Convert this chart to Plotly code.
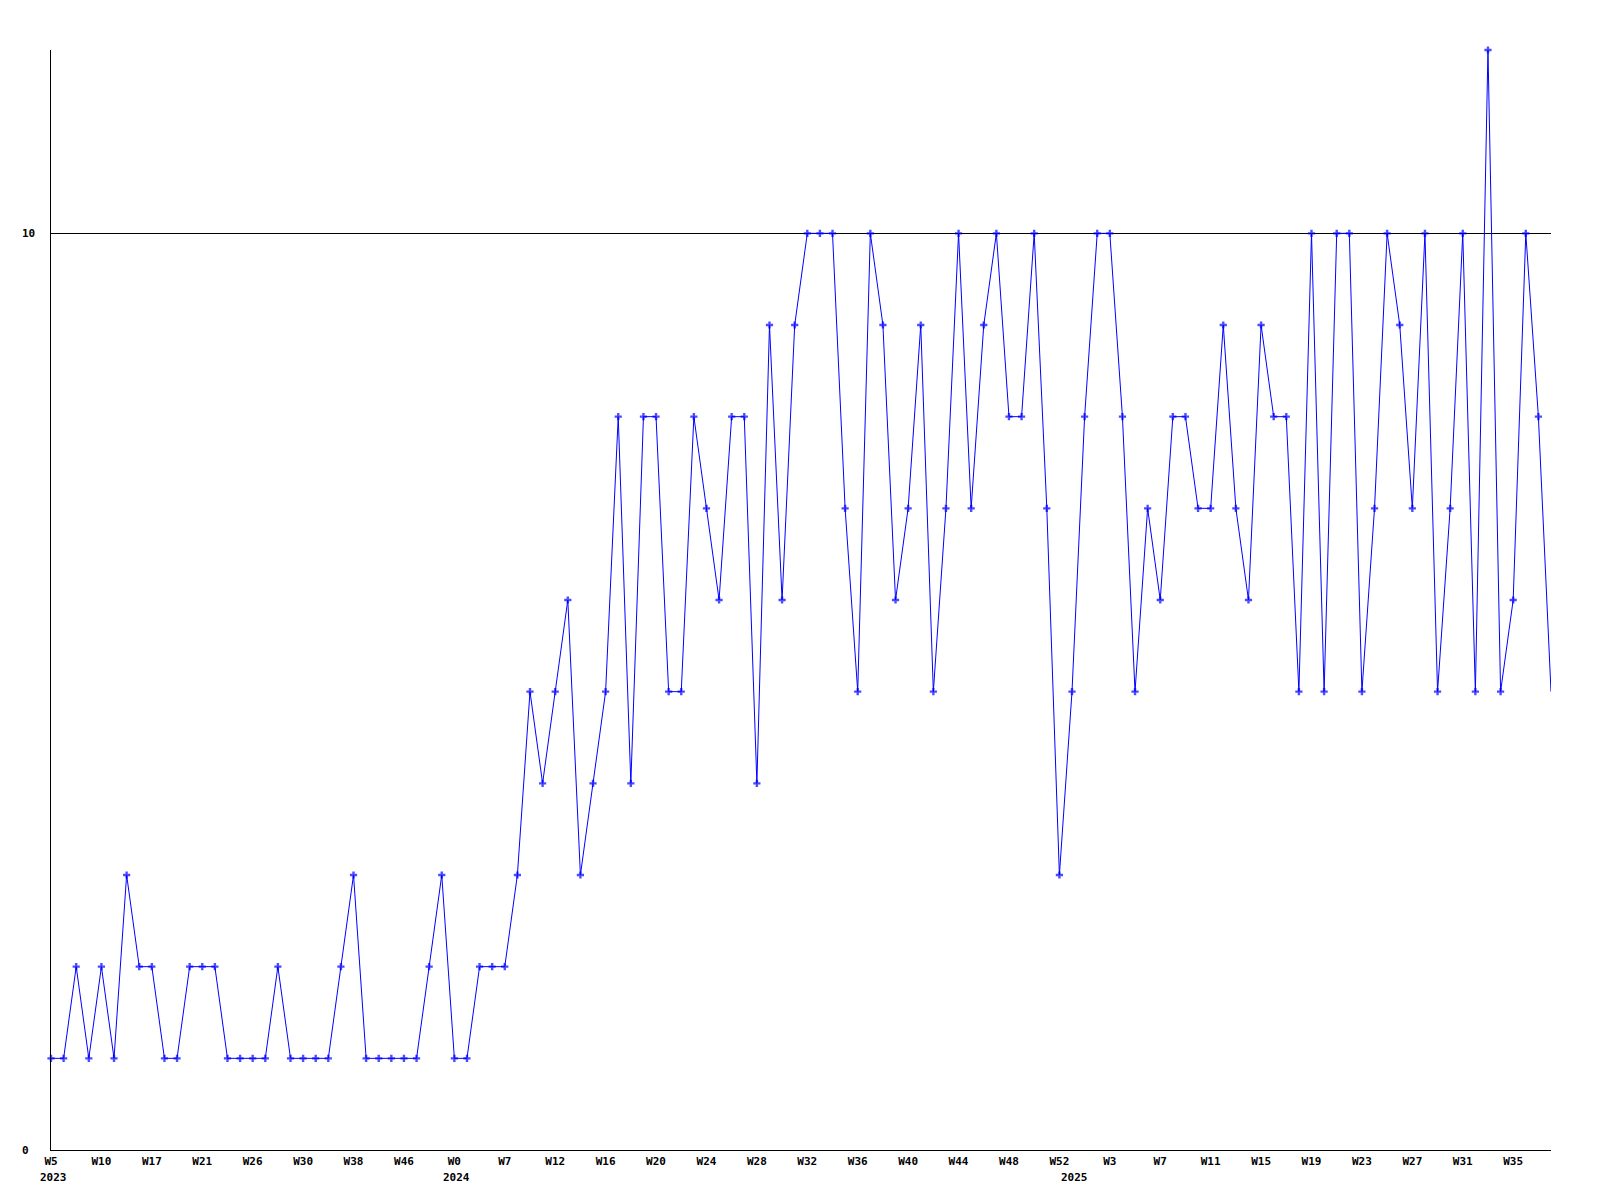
import plotly.graph_objects as go

# Weekly counts (one value per week bucket)
values = [1, 1, 2, 1, 2, 1, 3, 2, 2, 1,
          1, 2, 2, 2, 1, 1, 1, 1, 2, 1,
          1, 1, 1, 2, 3, 1, 1, 1, 1, 1,
          2, 3, 1, 1, 2, 2, 2, 3, 5, 4,
          5, 6, 3, 4, 5, 8, 4, 8, 8, 5,
          5, 8, 7, 6, 8, 8, 4, 9, 6, 9,
          10, 10, 10, 7, 5, 10, 9, 6, 7, 9,
          5, 7, 10, 7, 9, 10, 8, 8, 10, 7,
          3, 5, 8, 10, 10, 8, 5, 7, 6, 8,
          8, 7, 7, 9, 7, 6, 9, 8, 8, 5,
          10, 5, 10, 10, 5, 7, 10, 9, 7, 10,
          5, 7, 10, 5, 12, 5, 6, 10, 8, 5]

# Week tick labels (every 4th bucket)
week_labels = ["W5", "W10", "W17", "W21", "W26", "W30", "W38", "W46",
               "W0", "W7", "W12", "W16", "W20", "W24", "W28", "W32",
               "W36", "W40", "W44", "W48", "W52", "W3", "W7", "W11",
               "W15", "W19", "W23", "W27", "W31", "W35"]
tick_step = 4

# Year labels and the bucket where each year starts
years = ["2023", "2024", "2025"]
year_start = [0, 32, 81]

y_ticks = [0, 10]

n = len(values)
xs = list(range(n))
tickvals = [i * tick_step for i in range(len(week_labels))]

marker_sizes = [6] * (n - 1) + [0]

FONT = "DejaVu Sans Mono"

fig = go.Figure()
fig.add_trace(go.Scatter(
    x=xs, y=values, mode="lines+markers",
    line=dict(color="#0000ff", width=1),
    marker=dict(symbol="cross", size=marker_sizes, color="#0000ff",
                line=dict(width=0)),
    cliponaxis=False,
    showlegend=False,
))

annotations = []
for yr, idx in zip(years, year_start):
    annotations.append(dict(
        x=idx, y=0, xref="x", yref="paper", text=yr, showarrow=False,
        xanchor="center", yanchor="top", yshift=-19, xshift=2,
        font=dict(family=FONT, size=11, color="black", weight="bold"),
    ))
for v in y_ticks:
    annotations.append(dict(
        x=-0.0205, y=v, xref="paper", yref="y", text=str(v), showarrow=False,
        xanchor="left", yanchor="middle", yshift=0,
        font=dict(family=FONT, size=11, color="black", weight="bold"),
    ))

fig.update_layout(
    width=1600, height=1200,
    margin=dict(l=43, r=57, t=42, b=58),
    paper_bgcolor="white", plot_bgcolor="white",
    annotations=annotations,
    xaxis=dict(
        range=[0, n - 1], tickmode="array", tickvals=tickvals,
        ticktext=week_labels, showgrid=False, zeroline=False,
        showline=True, linecolor="black", linewidth=1, ticks="",
        tickfont=dict(family=FONT, size=11, color="black", weight="bold"),
        ticklabelstandoff=1,
    ),
    yaxis=dict(
        range=[0, 12], tickmode="array", tickvals=y_ticks,
        showticklabels=False, showgrid=True, gridcolor="black", gridwidth=1,
        zeroline=False, showline=True, linecolor="black", linewidth=1,
        ticks="",
    ),
)

fig.write_html("out.html")
